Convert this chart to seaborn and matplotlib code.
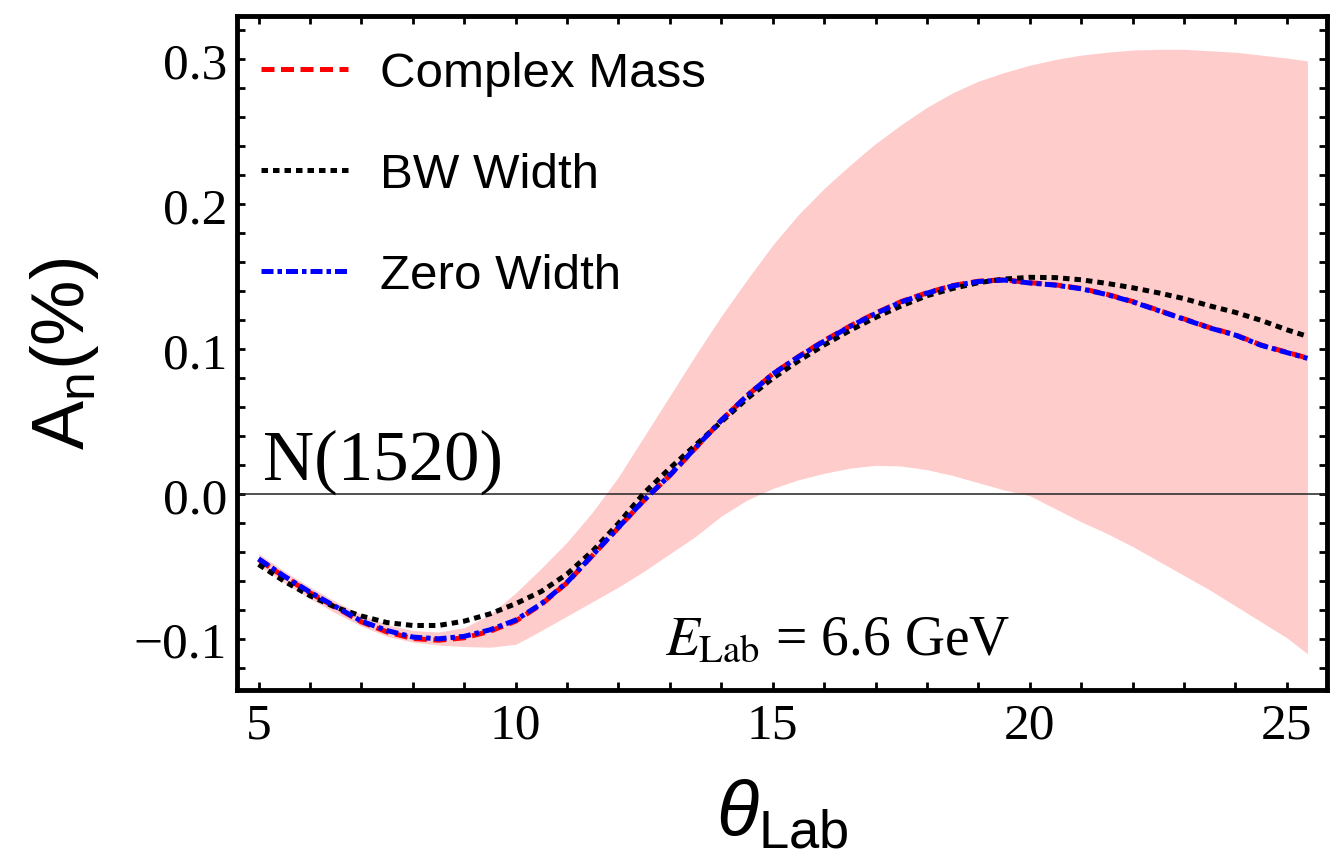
import numpy as np
import matplotlib
matplotlib.use("Agg")
import matplotlib.pyplot as plt
import seaborn as sns
from matplotlib.ticker import MultipleLocator

# ---- data ----
theta = [5, 5.5, 6, 6.5, 7, 7.5, 8, 8.5, 9, 9.5, 10, 10.5, 11, 11.5, 12, 12.5,
         13, 13.5, 14, 14.5, 15, 15.5, 16, 16.5, 17, 17.5, 18, 18.5, 19, 19.5,
         20, 20.5, 21, 21.5, 22, 22.5, 23, 23.5, 24, 24.5, 25, 25.4]

complex_mass = [-0.045, -0.057, -0.068, -0.078, -0.088, -0.095, -0.0995, -0.1007,
                -0.099, -0.0945, -0.0875, -0.076, -0.061, -0.042, -0.023, -0.004,
                0.013, 0.032, 0.051, 0.068, 0.083, 0.095, 0.106, 0.116, 0.125,
                0.133, 0.139, 0.144, 0.147, 0.148, 0.146, 0.1445, 0.142, 0.138,
                0.133, 0.127, 0.121, 0.115, 0.110, 0.103, 0.098, 0.094]

zero_width = [-0.0445, -0.0565, -0.0675, -0.0775, -0.0875, -0.094, -0.0985, -0.0997,
              -0.098, -0.0935, -0.0868, -0.0755, -0.0607, -0.0418, -0.0228, -0.0038,
              0.0132, 0.0322, 0.0511, 0.068, 0.083, 0.0948, 0.1057, 0.1157, 0.1247,
              0.1327, 0.1388, 0.1438, 0.1468, 0.1478, 0.1458, 0.1443, 0.1418, 0.1378,
              0.1328, 0.1268, 0.1208, 0.1148, 0.1098, 0.1028, 0.0978, 0.0938]

bw_width = [-0.0484, -0.060, -0.070, -0.078, -0.084, -0.0885, -0.0905, -0.0905,
            -0.0875, -0.0825, -0.0755, -0.067, -0.055, -0.039, -0.020, 0.001,
            0.018, 0.034, 0.050, 0.066, 0.080, 0.092, 0.103, 0.113, 0.122,
            0.130, 0.137, 0.142, 0.146, 0.1485, 0.1497, 0.1495, 0.148, 0.1455,
            0.1425, 0.139, 0.135, 0.130, 0.1255, 0.120, 0.1135, 0.109]

band_upper = [-0.041, -0.053, -0.064, -0.074, -0.083, -0.090, -0.094, -0.095,
              -0.092, -0.083, -0.068, -0.051, -0.033, -0.012, 0.012, 0.040,
              0.068, 0.096, 0.123, 0.148, 0.172, 0.193, 0.211, 0.227, 0.242,
              0.255, 0.267, 0.277, 0.285, 0.291, 0.296, 0.300, 0.303, 0.305,
              0.3065, 0.307, 0.307, 0.306, 0.305, 0.303, 0.301, 0.299]

band_lower = [-0.049, -0.061, -0.072, -0.082, -0.091, -0.098, -0.102, -0.104,
              -0.105, -0.1055, -0.1035, -0.094, -0.084, -0.074, -0.064, -0.053,
              -0.041, -0.029, -0.015, -0.004, 0.004, 0.010, 0.0145, 0.018, 0.020,
              0.0195, 0.017, 0.013, 0.008, 0.003, -0.001, -0.010, -0.019, -0.027,
              -0.036, -0.046, -0.056, -0.066, -0.077, -0.088, -0.099, -0.110]

x_ticks = [5, 10, 15, 20, 25]
y_ticks = [-0.1, 0.0, 0.1, 0.2, 0.3]
y_tick_labels = ["\u22120.1", "0.0", "0.1", "0.2", "0.3"]

# ---- style ----
sns.set_style("ticks")
plt.rcParams["font.family"] = ["Liberation Serif", "DejaVu Serif"]
plt.rcParams["text.color"] = "black"
plt.rcParams["axes.labelcolor"] = "black"
plt.rcParams["xtick.color"] = "black"
plt.rcParams["ytick.color"] = "black"
plt.rcParams["mathtext.fontset"] = "custom"
plt.rcParams["mathtext.rm"] = "Liberation Sans"
plt.rcParams["mathtext.it"] = "Liberation Sans:italic"
plt.rcParams["mathtext.sf"] = "Liberation Sans"

fig = plt.figure(figsize=(13.39, 8.62), dpi=100)
ax = fig.add_axes([0.1770, 0.1984, 0.8140, 0.7819])

ax.fill_between(theta, band_lower, band_upper, color="#ffcccc", lw=0, zorder=1)
ax.axhline(0, color="#222222", lw=1.1, zorder=2)

lw = 3.6
sns.lineplot(x=theta, y=complex_mass, ax=ax, color="red", lw=lw,
             linestyle=(0, (2.6, 1.3)), label="Complex Mass", zorder=3)
sns.lineplot(x=theta, y=bw_width, ax=ax, color="black", lw=lw,
             linestyle=(0, (1.3, 1.0)), label="BW Width", zorder=4)
sns.lineplot(x=theta, y=zero_width, ax=ax, color="blue", lw=lw,
             linestyle=(0, (2.4, 0.8, 0.9, 0.8)), label="Zero Width", zorder=5)

ax.set_xlim(4.58, 25.78)
ax.set_ylim(-0.135, 0.330)

ax.set_xticks(x_ticks)
ax.set_xticklabels([str(t) for t in x_ticks])
ax.set_yticks(y_ticks)
ax.set_yticklabels(y_tick_labels)
ax.xaxis.set_minor_locator(MultipleLocator(1))
ax.yaxis.set_minor_locator(MultipleLocator(0.02))
ax.tick_params(which="both", direction="in", top=True, right=True,
               length=6, width=2, color="black")
ax.tick_params(axis="x", which="major", labelsize=37, pad=9, labelcolor="black")
ax.tick_params(axis="y", which="major", labelsize=37, pad=7, labelcolor="black")

for s in ax.spines.values():
    s.set_linewidth(3.5)
    s.set_color("black")

ax.set_xlabel(r"$\theta_{\mathrm{Lab}}$", fontsize=56, family="Liberation Sans",
              color="black")
ax.set_ylabel(r"$\mathsf{A}_{\mathsf{n}}$(%)", fontsize=53, family="Liberation Sans",
              color="black")
ax.xaxis.set_label_coords(0.5, -0.13)
ax.yaxis.set_label_coords(-0.125, 0.5)

ax.text(5.08, 0.011, "N(1520)", fontsize=51, family="Liberation Serif",
        color="black", va="baseline", ha="left")
ax.text(12.9, -0.110, r"$E_{\mathrm{Lab}}$ = 6.6 GeV", fontsize=40,
        family="Liberation Serif", math_fontfamily="stix", color="black",
        va="baseline", ha="left")

leg = ax.legend(loc="upper left", bbox_to_anchor=(0.022, 0.948), frameon=False,
                prop={"family": "Liberation Sans", "size": 35.5},
                handlelength=1.76, handletextpad=0.65, labelspacing=1.14,
                borderpad=0, borderaxespad=0)
for t in leg.get_texts():
    t.set_color("black")

fig.savefig("out.png", dpi=100)
